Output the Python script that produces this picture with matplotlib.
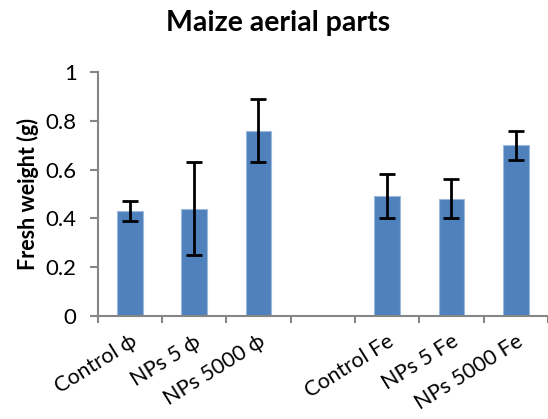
import numpy as np
import matplotlib.pyplot as plt

plt.rcParams['font.family'] = ['Lato', 'DejaVu Sans']

# Fresh weight of maize aerial parts, mean and error per treatment
categories = ['Control ϕ', 'NPs 5 ϕ', 'NPs 5000 ϕ', '', 'Control Fe', 'NPs 5 Fe', 'NPs 5000 Fe']
weight = [0.43, 0.44, 0.76, np.nan, 0.49, 0.48, 0.70]
error = [0.04, 0.19, 0.13, np.nan, 0.09, 0.08, 0.06]

fig = plt.figure(figsize=(5.48, 4.19), dpi=100)
ax = fig.add_axes([0.178, 0.2458, 0.822, 0.5823])

x = np.arange(len(categories))
ax.bar(x, weight, width=0.4, color='#4F81BD', edgecolor='#9DB9DC', linewidth=0.8,
       yerr=error, error_kw=dict(ecolor='black', elinewidth=2, capsize=6, capthick=2))

ax.set_xlim(-0.5, len(categories) - 0.5)
ax.set_ylim(0, 1)
ax.set_yticks([0, 0.2, 0.4, 0.6, 0.8, 1.0])
ax.set_yticklabels(['0', '0.2', '0.4', '0.6', '0.8', '1'])

# category boundaries carry the tick marks, labels sit at the centres
ax.set_xticks(np.arange(-0.5, len(categories)), minor=False)
ax.set_xticklabels([])
ax.set_xticks(x, minor=True)
ax.set_xticklabels(categories, minor=True, rotation=32, ha='right',
                   rotation_mode='anchor', fontsize=15.5)
ax.tick_params(axis='x', which='minor', length=0, pad=11)
ax.tick_params(axis='x', which='major', length=5, color='#868686', width=1.5)
ax.tick_params(axis='y', length=6, color='#868686', width=1.5, labelsize=16, pad=9)

for side in ['top', 'right']:
    ax.spines[side].set_visible(False)
for side in ['left', 'bottom']:
    ax.spines[side].set_color('#868686')
    ax.spines[side].set_linewidth(1.5)

ax.set_ylabel('Fresh weight (g)', fontsize=15.5, fontweight='bold', labelpad=5)
fig.text(0.508, 0.945, 'Maize aerial parts', ha='center', va='center',
         fontsize=20.5, fontweight='bold')

fig.savefig('out.png', dpi=100)
